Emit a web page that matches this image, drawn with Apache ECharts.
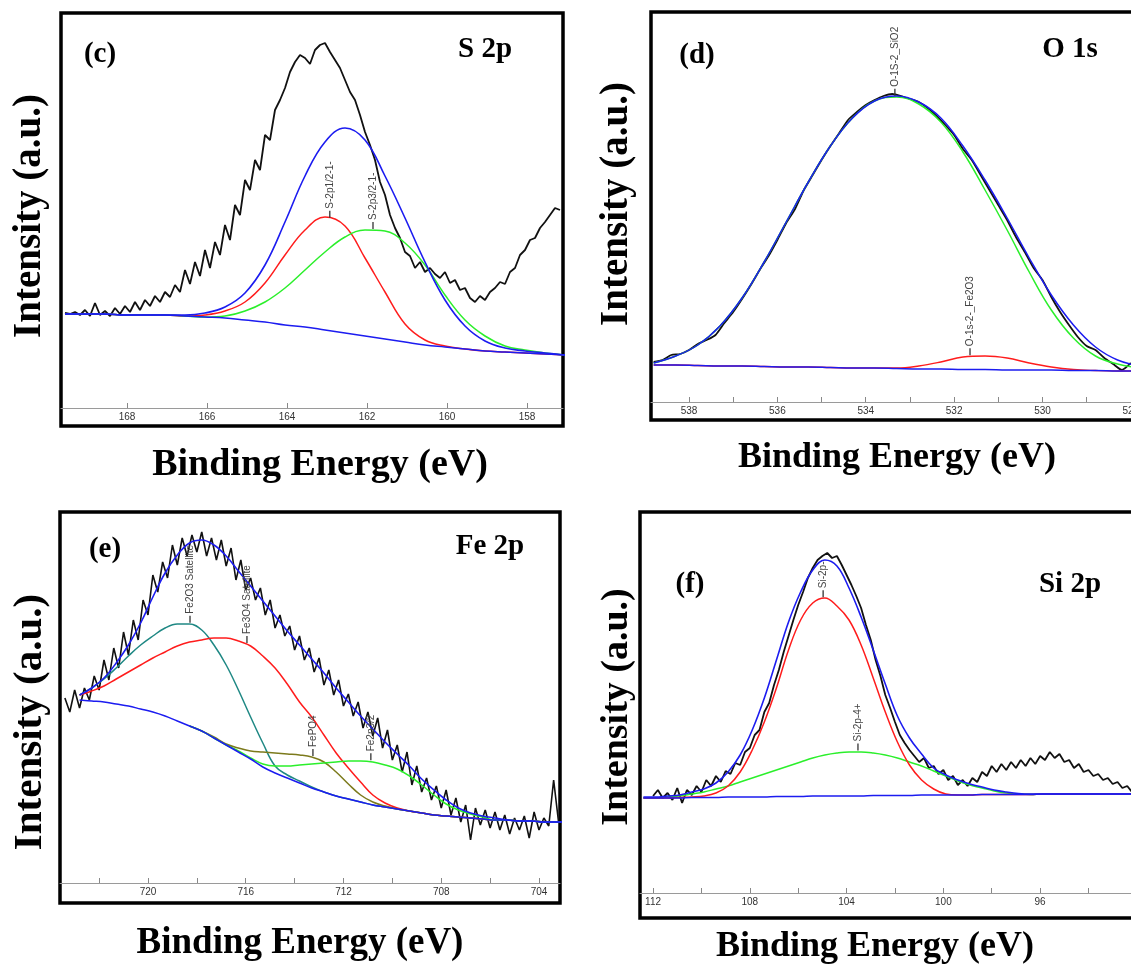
<!DOCTYPE html>
<html lang="en">
<head>
<meta charset="UTF-8">
<title>XPS spectra</title>
<style>
  html, body { margin: 0; padding: 0; background: #fff; }
  #app { width: 1131px; height: 965px; }
</style>
</head>
<body>
<div id="app"></div>
<script src="https://cdn.jsdelivr.net/npm/echarts@6.0.0/dist/echarts.min.js"></script>
<script>
// ---------- (c) S 2p ----------
var sRawStart = 169.55, sRawStep = -0.125;
var sRaw = [113,112,114,111,116,110,123,111,115,110, 118,112,120,114,124,116,126,120,130,124,
    134,129,141,134,156,142,164,150,176,158, 184,171,201,186,221,211,246,236,266,256,
    291,286,316,326,338,354,364,371,368,362, 376,381,383,374,366,358,346,334,326,311,
    294,281,266,244,231,211,198,188,174,170, 158,164,154,158,152,148,154,143,146,136,
    138,128,124,130,126,134,138,144,142,154, 158,171,176,186,188,198,204,211,218,216];
var sFitStart = 169.55, sFitStep = -0.5;
var sBaseline = [112,112,112,111,111,111,110,109,108,106,104,101,99,96,93,90,87,84,81,79,77,75,74,73,72,71];
var sEnvelope = [112,112,112,111,111,111,111,113,119,133,161,204,250,284,298,286,250,208,164,126,100,85,78,75,73,71];
var s2p12 = [112,112,112,111,111,111,110,111,115,124,143,171,196,209,200,168,134,102,86,80,77,75,74,73,72,71];
var s2p32 = [112,112,112,111,111,111,110,109,110,115,124,138,156,174,189,196,195,183,161,131,106,90,80,76,73,71];
var sTicks = [168, 166, 164, 162, 160, 158];
var sMinor = [];

// ---------- (d) O 1s ----------
var oRawStart = 538.8, oRawStep = -0.2;
var oRaw = [58,60,65,66,70,76,80,85,97,108, 121,135,150,164,180,197,211,230,245,260,
    274,287,300,308,315,320,324,326,324,321, 318,312,304,295,285,271,260,245,230,215,
    200,183,168,152,140,123,108,95,83,74, 70,62,56,50,57];
var oFitStart = 538.8, oFitStep = -0.5;
var oBaseline = [55,55,54.5,54,54,53.5,53,53,52.5,52,52,51.5,51,51,50.5,50.5,50,50,50,49.5,49.5,49,49];
var oEnvelope = [57,64,75,94,122,158,198,238,274,302,319,324,318,302,274,240,202,162,125,95,73,60,54];
var oSiO2 = [57,64,75,94,122,158,198,238,274,302,319,323,316,298,268,230,190,148,110,82,64,56,52];
var oFe2O3 = [55,55,54.5,54,54,53.5,53,53,52.5,52,52,52,54,58,63,64,62,57,53,50.5,49.5,49,49];
var oTicks = [538, 536, 534, 532, 530, 528];
var oMinor = [537, 535, 533, 531, 529];

// ---------- (e) Fe 2p ----------
var fRawStart = 723.4, fRawStep = -0.2;
var fRaw = [205,191,213,195,215,203,227,213,243,223, 255,235,271,248,283,263,303,288,328,311,
    341,325,358,338,365,347,368,351,371,347, 365,343,363,337,355,323,343,313,325,303,
    315,288,303,275,288,267,277,253,267,243, 255,231,245,218,233,208,223,197,209,187,
    201,175,191,167,185,155,173,143,158,131, 151,118,137,111,125,103,117,95,113,88,
    105,81,98,63,95,78,93,75,91,73, 88,69,85,73,87,65,91,73,85,77, 123,81];
var fFitStart = 722.8, fFitStep = -0.5;
var fBaseline = [203,202,201,199,197,194,191,187,182,177,172,165,158,151,144,136,130,125,120,115,
    111,107,104,101,98,96,94,92,90,88,87,86,85,84,83,83,82,82,81,81,81];
var fEnvelope = [208,215,225,240,258,280,306,330,348,360,363,358,347,332,317,302,287,272,258,244,
    230,215,201,187,174,161,149,137,124,113,103,95,90,87,85,83,82,82,81,81,81];
var fFe2O3Sat = [208,215,224,235,247,258,267,275,279,279,273,258,238,213,186,160,137,128,122,116,
    111,107,104,101,98,96,94,92,90,88,87,86,85,84,83,83,82,82,81,81,81];
var fFe3O4Sat = [208,212,217,224,231,238,245,251,257,261,263,265,265,262,257,247,235,219,201,186,
    168,150,135,121,108,100,95,92,90,88,87,86,85,84,83,83,82,82,81,81,81];
// FePO4 and Fe 2p3/2 components are only drawn from 718.3 eV downwards
var fFePO4 = [null,null,null,null,null,null,null,null,null,177,172,166,159,155,152,151,150,149,148,146,
    141,131,119,108,101,97,94,92,90,88,87,86,85,84,83,83,82,82,81,81,81];
var fFe2p32 = [null,null,null,null,null,null,null,null,null,177,172,165,158,152,145,139,137,137,138,139,
    140,141,142,142,141,138,134,127,118,108,99,93,89,86,83,83,82,82,81,81,81];
var fTicks = [720, 716, 712, 708, 704];
var fMinor = [722, 718, 714, 710, 706];

// ---------- (f) Si 2p ----------
var siRawStart = 112.0, siRawStep = -0.2;
var siRaw = [122,128,120,125,118,130,115,128,123,132, 126,138,132,142,136,147,144,155,153,166,
    170,183,188,206,215,233,248,266,282,298, 313,326,340,350,358,362,365,360,362,353,
    343,333,322,310,293,278,258,242,223,210, 196,183,175,168,162,156,160,150,152,144,
    148,138,142,133,138,132,140,136,146,142, 152,146,154,148,156,150,158,152,160,154,
    162,158,166,160,164,156,158,150,154,146, 148,142,144,138,140,134,136,130,132,126, 128,124];
var siFitStart = 112.4, siFitStep = -0.5;
var siBaseline = [120,120,120,120,120.5,120.5,120.5,121,121,121,121,121.5,121.5,121.5,122,122,122,122,122,122.5,
    122.5,122.5,122.5,123,123,123,123,123,123.5,123.5,123.5,123.5,123.5,124,124,124,124,124,124,124,124,124];
var siEnvelope = [121,121,122,123,126,129,135,146,163,188,220,258,296,326,348,358,352,330,301,268,
    234,202,180,164,150,143,138,134,131,128,126,124.5,124,124,124,124,124,124,124,124,124,124];
var si2p = [120,120,120,120.5,121,122,125,132,146,168,196,230,268,298,315,320,312,298,273,240,
    206,176,153,138,129,124,123,123,123.5,123.5,123.5,123.5,123.5,124,124,124,124,124,124,124,124,124];
var si2p4 = [120,120,121,122,124,126,129,132,136,140,144,148,152,156,160,163,165,166,166,165,
    163,160,156,152,147,142,137,133,130,127,125,124,123.5,124,124,124,124,124,124,124,124,124];
var siTicks = [112, 108, 104, 100, 96, 92];
var siMinor = [110, 106, 102, 98, 94];

var BLUE = '#1c1cf0', RED = '#ff1c1c', GREEN = '#2bef2b', TEAL = '#1f8884', OLIVE = '#7c7a1c';

function pairs(start, step, vals) {
    return vals.map(function (v, i) {
        return [Math.round((start + step * i) * 1000) / 1000, v];
    });
}

function valueAt(start, step, vals, e) {
    var t = (e - start) / step;
    var i = Math.floor(t);
    if (i >= vals.length - 1) return vals[vals.length - 1];
    return vals[i] + (vals[i + 1] - vals[i]) * (t - i);
}

function peakMarks(start, step, vals, labels) {
    return {
        silent: true,
        symbol: 'rect',
        symbolSize: [1.3, 7],
        symbolOffset: [0, -5],
        itemStyle: { color: '#333' },
        label: {
            show: true, position: 'top', distance: 2, rotate: 90,
            align: 'left', verticalAlign: 'middle', formatter: '{b}',
            fontSize: 10, color: '#444', fontFamily: 'Liberation Sans'
        },
        data: labels.map(function (l) {
            return { name: l.name, coord: [l.e, valueAt(start, step, vals, l.e)] };
        })
    };
}

function line(grid, start, step, vals, color, width, smooth, marks) {
    return {
        type: 'line', xAxisIndex: grid, yAxisIndex: grid,
        data: pairs(start, step, vals),
        symbol: 'none', showSymbol: false, smooth: smooth, connectNulls: false,
        lineStyle: { color: color, width: width },
        itemStyle: { color: color },
        markPoint: marks,
        animation: false
    };
}

function xAxisFor(grid, min, max, major, minor, offset) {
    return {
        type: 'value', gridIndex: grid, min: min, max: max, inverse: true, offset: offset,
        axisLine: { onZero: false, lineStyle: { color: '#9a9a9a', width: 1 } },
        axisTick: { inside: true, length: 5, customValues: major.concat(minor), lineStyle: { color: '#888' } },
        axisLabel: { customValues: major, fontSize: 10, color: '#333', margin: 4, fontFamily: 'Liberation Sans' },
        splitLine: { show: false }
    };
}

function yAxisFor(grid, max) {
    return { type: 'value', gridIndex: grid, min: 0, max: max, show: false };
}

function txt(x, y, text, size, rot) {
    return {
        type: 'text', x: x, y: y, rotation: rot || 0, silent: true,
        style: {
            text: text, fill: '#000', align: 'center', verticalAlign: 'middle',
            font: 'bold ' + size + 'px "Liberation Serif"'
        }
    };
}

var frame = {
    show: true, borderColor: '#000', borderWidth: 3.5, backgroundColor: 'transparent',
    containLabel: false, outerBoundsMode: 'none'
};

var chart = echarts.init(document.getElementById('app'));
var option = {
    backgroundColor: '#fff',
    animation: false,
    grid: [
        Object.assign({ left: 61, top: 13, width: 502, height: 413 }, frame),
        Object.assign({ left: 651, top: 12, width: 490, height: 408 }, frame),
        Object.assign({ left: 60, top: 512, width: 500, height: 391 }, frame),
        Object.assign({ left: 640, top: 512, width: 501, height: 406 }, frame)
    ],
    xAxis: [
        xAxisFor(0, 157.1, 169.65, sTicks, sMinor, -18),
        xAxisFor(1, 527.77, 538.86, oTicks, oMinor, -18),
        xAxisFor(2, 703.14, 723.6, fTicks, fMinor, -20),
        xAxisFor(3, 91.83, 112.54, siTicks, siMinor, -25)
    ],
    yAxis: [yAxisFor(0, 413), yAxisFor(1, 408), yAxisFor(2, 391), yAxisFor(3, 406)],
    series: [
        // (c)
        line(0, sRawStart, sRawStep, sRaw, '#111', 1.8, false),
        line(0, sFitStart, sFitStep, s2p12, RED, 1.5, 0.4,
            peakMarks(sFitStart, sFitStep, s2p12, [{ name: 'S-2p1/2-1-', e: 162.93 }])),
        line(0, sFitStart, sFitStep, s2p32, GREEN, 1.5, 0.4,
            peakMarks(sFitStart, sFitStep, s2p32, [{ name: 'S-2p3/2-1-', e: 161.85 }])),
        line(0, sFitStart, sFitStep, sBaseline, BLUE, 1.5, 0.4),
        line(0, sFitStart, sFitStep, sEnvelope, BLUE, 1.6, 0.4),
        // (d)
        line(1, oRawStart, oRawStep, oRaw, '#111', 1.8, 0.2),
        line(1, oFitStart, oFitStep, oFe2O3, RED, 1.4, 0.4,
            peakMarks(oFitStart, oFitStep, oFe2O3, [{ name: 'O-1s-2-_Fe2O3', e: 531.64 }])),
        line(1, oFitStart, oFitStep, oBaseline, BLUE, 1.4, 0.4),
        line(1, oFitStart, oFitStep, oSiO2, GREEN, 1.5, 0.4,
            peakMarks(oFitStart, oFitStep, oSiO2, [{ name: 'O-1S-2_SiO2', e: 533.34 }])),
        line(1, oFitStart, oFitStep, oEnvelope, BLUE, 1.5, 0.4),
        // (e)
        line(2, fRawStart, fRawStep, fRaw, '#111', 1.6, false),
        line(2, fFitStart, fFitStep, fFe2O3Sat, TEAL, 1.5, 0.4,
            peakMarks(fFitStart, fFitStep, fFe2O3Sat, [{ name: 'Fe2O3 Satellite', e: 718.28 }])),
        line(2, fFitStart, fFitStep, fFe3O4Sat, RED, 1.5, 0.4,
            peakMarks(fFitStart, fFitStep, fFe3O4Sat, [{ name: 'Fe3O4 Satellite', e: 715.95 }])),
        line(2, fFitStart, fFitStep, fFePO4, OLIVE, 1.5, 0.4,
            peakMarks(fFitStart, fFitStep, fFePO4, [{ name: 'FePO4', e: 713.25 }])),
        line(2, fFitStart, fFitStep, fFe2p32, GREEN, 1.5, 0.4,
            peakMarks(fFitStart, fFitStep, fFe2p32, [{ name: 'Fe2p3/2', e: 710.88 }])),
        line(2, fFitStart, fFitStep, fBaseline, BLUE, 1.5, 0.4),
        line(2, fFitStart, fFitStep, fEnvelope, BLUE, 1.6, 0.4),
        // (f)
        line(3, siRawStart, siRawStep, siRaw, '#111', 1.8, false),
        line(3, siFitStart, siFitStep, si2p4, GREEN, 1.5, 0.4,
            peakMarks(siFitStart, siFitStep, si2p4, [{ name: 'Si-2p-4+', e: 103.53 }])),
        line(3, siFitStart, siFitStep, si2p, RED, 1.5, 0.4,
            peakMarks(siFitStart, siFitStep, si2p, [{ name: 'Si-2p-', e: 104.97 }])),
        line(3, siFitStart, siFitStep, siBaseline, BLUE, 1.4, 0.4),
        line(3, siFitStart, siFitStep, siEnvelope, BLUE, 1.6, 0.4)
    ],
    graphic: [
        txt(30, 216, 'Intensity (a.u.)', 39, Math.PI / 2),
        txt(617, 204, 'Intensity (a.u.)', 39, Math.PI / 2),
        txt(30, 722, 'Intensity (a.u.)', 41, Math.PI / 2),
        txt(617, 707, 'Intensity (a.u.)', 38, Math.PI / 2),
        txt(320, 465, 'Binding Energy (eV)', 38),
        txt(897, 458, 'Binding Energy (eV)', 36),
        txt(300, 943, 'Binding Energy (eV)', 37),
        txt(875, 947, 'Binding Energy (eV)', 36),
        txt(100, 55, '(c)', 29), txt(485, 50, 'S 2p', 29),
        txt(697, 56, '(d)', 29), txt(1070, 50, 'O 1s', 29),
        txt(105, 550, '(e)', 29), txt(490, 547, 'Fe 2p', 29),
        txt(690, 585, '(f)', 29), txt(1070, 585, 'Si 2p', 29)
    ]
};
chart.setOption(option);
</script>
</body>
</html>
